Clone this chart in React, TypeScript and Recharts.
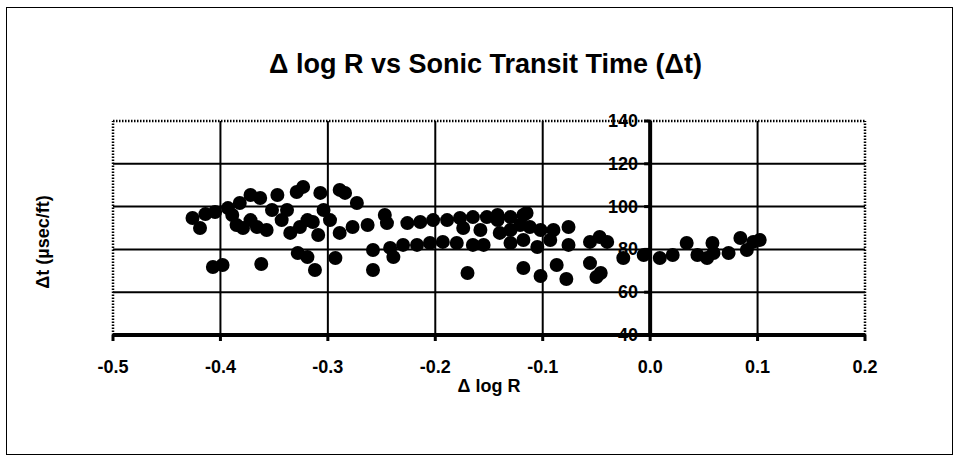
import React from 'react';
import { ScatterChart, Scatter, XAxis, YAxis, ReferenceLine, ReferenceDot } from 'recharts';

const FONT = '"Liberation Sans", Arial, Helvetica, sans-serif';

const titleText = 'Δ log R vs Sonic Transit Time (Δt)';
const xAxisTitle = 'Δ log R';
const yAxisTitle = 'Δt (µsec/ft)';

const xTicks = [-0.5, -0.4, -0.3, -0.2, -0.1, 0, 0.1, 0.2];
const yTicks = [40, 60, 80, 100, 120, 140];

const deltaLogR = [
  -0.426, -0.419, -0.414, -0.405, -0.393, -0.407, -0.398, -0.362, -0.382, -0.372,
  -0.363, -0.385, -0.379, -0.372, -0.366, -0.357, -0.347, -0.338, -0.335, -0.329,
  -0.323, -0.319, -0.314, -0.307, -0.319, -0.312, -0.328, -0.289, -0.284, -0.273,
  -0.293, -0.298, -0.289, -0.277, -0.263, -0.247, -0.258, -0.258, -0.239, -0.242,
  -0.245, -0.230, -0.226, -0.217, -0.214, -0.205, -0.202, -0.193, -0.189, -0.180,
  -0.177, -0.170, -0.165, -0.165, -0.155, -0.152, -0.142, -0.142, -0.130, -0.118,
  -0.115, -0.112, -0.102, -0.090, -0.076, -0.093, -0.105, -0.118, -0.130, -0.140,
  -0.076, -0.056, -0.047, -0.040, -0.025, -0.006, -0.118, -0.102, -0.087, -0.078,
  -0.056, -0.046, -0.050, 0.009, 0.021, 0.034, 0.044, 0.053, 0.058, 0.059,
  0.073, 0.084, 0.090, 0.096, 0.102, -0.389, -0.352, -0.343, -0.304, -0.309,
  -0.326, -0.130, -0.121, -0.158, -0.174,
];

const sonicDt = [
  94.7, 90.0, 96.5, 97.5, 99.3, 71.8, 72.7, 73.2, 101.7, 105.4,
  104.0, 91.4, 90.0, 93.7, 90.5, 89.1, 105.4, 98.4, 87.7, 106.8,
  109.2, 93.7, 92.8, 106.4, 76.4, 70.4, 78.3, 107.8, 106.4, 101.7,
  76.0, 93.7, 87.7, 90.5, 91.4, 96.1, 79.7, 70.4, 76.4, 80.7,
  92.3, 82.1, 92.3, 82.1, 92.8, 83.0, 93.7, 83.5, 93.7, 83.0,
  94.7, 69.0, 82.1, 95.1, 82.1, 95.1, 96.1, 93.7, 95.1, 96.1,
  97.0, 90.5, 89.1, 89.1, 90.5, 84.4, 81.1, 84.4, 83.0, 87.7,
  82.1, 83.5, 85.8, 83.5, 76.0, 77.4, 71.3, 67.6, 72.7, 66.2,
  73.6, 69.0, 67.1, 76.0, 77.4, 83.0, 77.4, 76.0, 83.0, 78.3,
  78.3, 85.3, 79.7, 83.5, 84.4, 96.1, 98.4, 93.7, 98.4, 86.7,
  90.5, 89.1, 91.4, 89.1, 90.0,
];

const points = deltaLogR.map((x, i) => ({ x, y: sonicDt[i] }));

const xMin = xTicks[0];
const xMax = xTicks[xTicks.length - 1];
const yMin = yTicks[0];
const yMax = yTicks[yTicks.length - 1];

const Dot = (props: any) => {
  const { cx, cy } = props;
  if (cx == null || cy == null) return null;
  return <circle cx={cx} cy={cy} r={7} fill="#000" />;
};

const YTickMark = (props: any) => {
  const { cx, cy, value } = props;
  return (
    <g>
      <line x1={cx - 6} x2={cx} y1={cy} y2={cy} stroke="#000" strokeWidth={3} />
      <text
        x={cx - 12}
        y={cy}
        textAnchor="end"
        dominantBaseline="central"
        fontFamily={FONT}
        fontWeight="bold"
        fontSize={18}
        fill="#000"
      >
        {value}
      </text>
    </g>
  );
};

export default function App() {
  return (
    <div
      style={{
        position: 'absolute',
        left: 0,
        top: 0,
        width: 959,
        height: 463,
        background: '#fff',
        overflow: 'hidden',
      }}
    >
      <div
        style={{
          position: 'absolute',
          left: 6,
          top: 7,
          width: 947,
          height: 448,
          border: '1.5px solid #000',
          boxSizing: 'border-box',
        }}
      />
      <div
        style={{
          position: 'absolute',
          left: 0,
          width: 959,
          top: 48,
          textAlign: 'center',
          fontFamily: FONT,
          fontWeight: 'bold',
          fontSize: 27,
          color: '#000',
          lineHeight: '32px',
          paddingLeft: 6,
        }}
      >
        {titleText}
      </div>
      <div
        style={{
          position: 'absolute',
          left: 43 - 100,
          top: 242 - 12,
          width: 200,
          height: 24,
          lineHeight: '24px',
          textAlign: 'center',
          transform: 'rotate(-90deg)',
          fontFamily: FONT,
          fontWeight: 'bold',
          fontSize: 18,
          color: '#000',
        }}
      >
        {yAxisTitle}
      </div>
      <div style={{ position: 'absolute', left: 0, top: 0 }}>
        <ScatterChart
          width={959}
          height={463}
          margin={{ top: 121, right: 94, bottom: 98, left: 113 }}
        >
          <XAxis
            type="number"
            dataKey="x"
            domain={[xMin, xMax]}
            ticks={xTicks}
            allowDataOverflow
            tickFormatter={(v: number) => v.toFixed(1)}
            height={30}
            axisLine={{ stroke: '#000', strokeWidth: 4 }}
            tickLine={{ stroke: '#000', strokeWidth: 3 }}
            tickSize={6}
            tickMargin={19}
            tick={{ fill: '#000', fontSize: 18, fontWeight: 'bold', fontFamily: FONT }}
            label={{
              value: xAxisTitle,
              position: 'bottom',
              offset: 14,
              fill: '#000',
              fontSize: 18,
              fontWeight: 'bold',
              fontFamily: FONT,
            }}
          />
          <YAxis type="number" dataKey="y" domain={[yMin, yMax]} ticks={yTicks} hide />
          {yTicks
            .filter((v) => v !== yMin && v !== yMax)
            .map((v) => (
              <ReferenceLine key={'gy' + v} y={v} stroke="#000" strokeWidth={2} />
            ))}
          {xTicks
            .filter((v) => v !== xMin && v !== xMax && v !== 0)
            .map((v) => (
              <ReferenceLine key={'gx' + v} x={v} stroke="#000" strokeWidth={2} />
            ))}
          <ReferenceLine y={yMax} stroke="#000" strokeWidth={2.5} strokeDasharray="1.5 1.5" />
          <ReferenceLine x={xMin} stroke="#000" strokeWidth={2.5} strokeDasharray="1.5 1.5" />
          <ReferenceLine x={xMax} stroke="#000" strokeWidth={2.5} strokeDasharray="1.5 1.5" />
          <ReferenceLine x={0} stroke="#000" strokeWidth={4} />
          <Scatter data={points} fill="#000" shape={Dot} isAnimationActive={false} />
          {yTicks.map((v) => (
            <ReferenceDot
              key={'yt' + v}
              x={0}
              y={v}
              r={0}
              ifOverflow="visible"
              shape={(p: any) => <YTickMark {...p} value={v} />}
            />
          ))}
        </ScatterChart>
      </div>
    </div>
  );
}
